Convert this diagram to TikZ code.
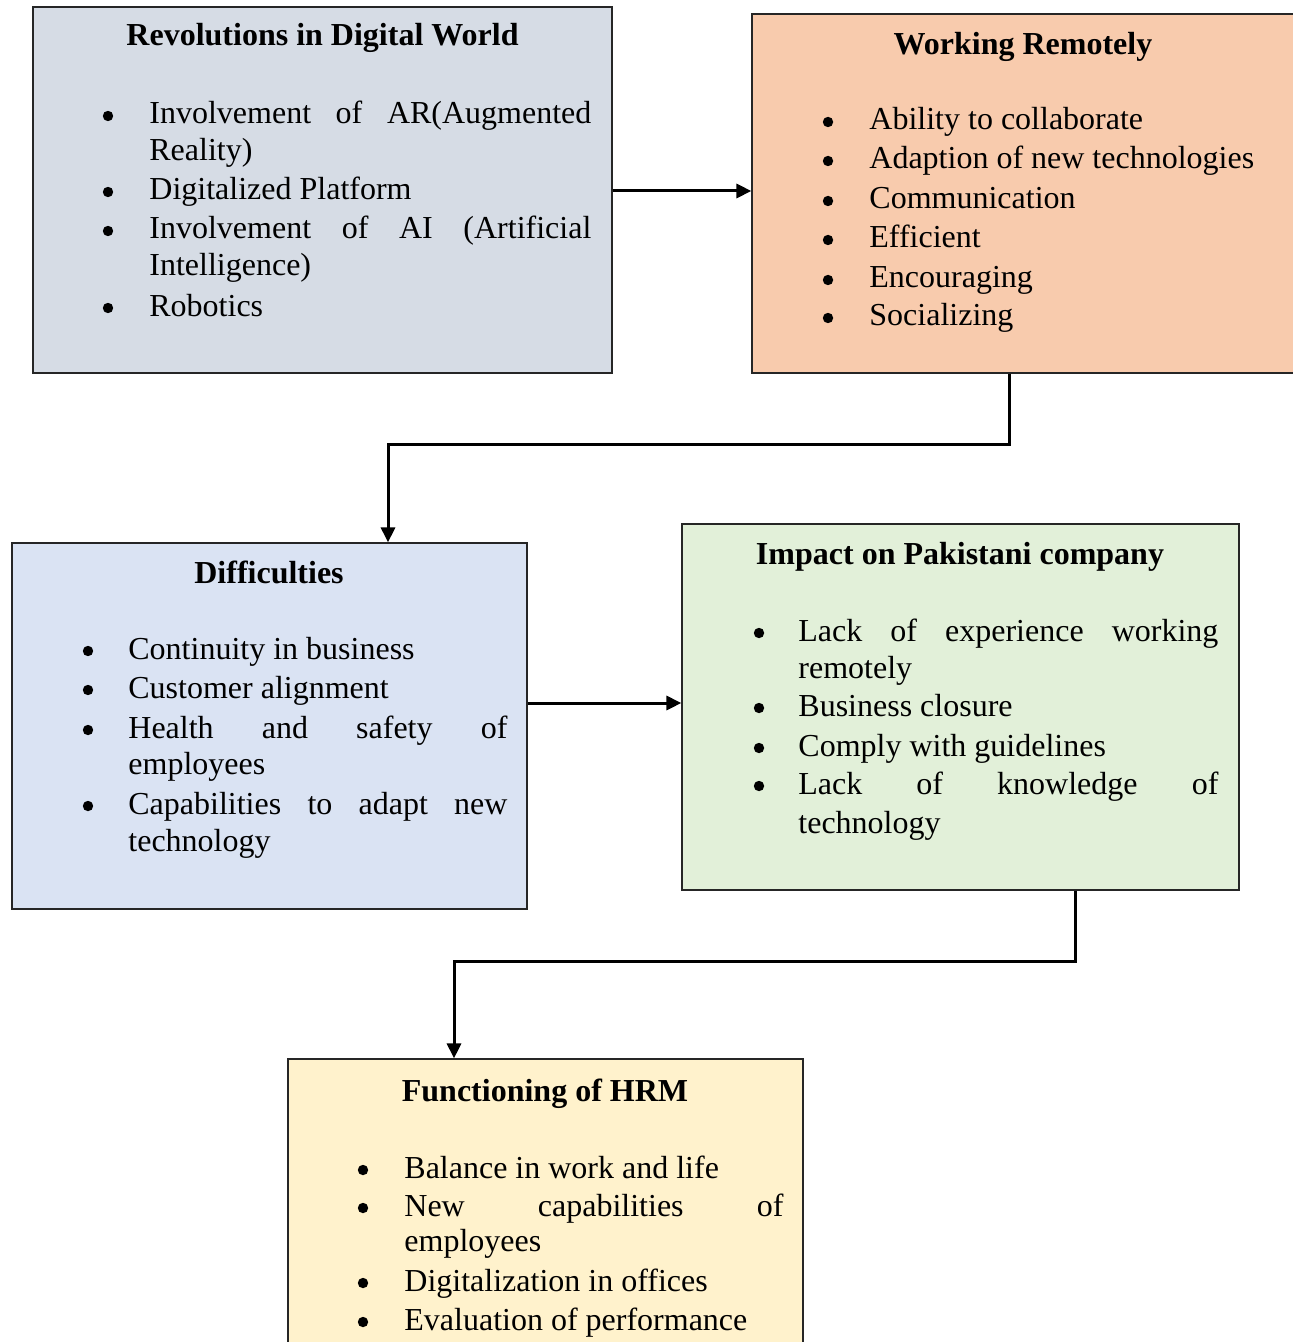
\documentclass[tikz,border=0pt]{standalone}
\usepackage{fontspec}
\setmainfont{Liberation Serif}
\usetikzlibrary{arrows.meta}
\definecolor{cA}{HTML}{D6DCE5}
\definecolor{cB}{HTML}{F8CBAD}
\definecolor{cC}{HTML}{DAE3F3}
\definecolor{cD}{HTML}{E2F0D9}
\definecolor{cE}{HTML}{FFF2CC}
\tikzset{
 box/.style={draw=black!85, line width=0.6pt, inner sep=0pt, rectangle},
 ttl/.style={anchor=base, inner sep=0pt, font=\fontsize{16}{19}\selectfont\bfseries},
 bul/.style={circle, fill=black, inner sep=0pt, minimum size=5.2pt, yshift=4pt},
 ln/.style={anchor=base west, inner sep=0pt},
 conn/.style={line width=1.5pt, -{Triangle[length=7.5pt,width=7pt]}},
}
\begin{document}
\begin{tikzpicture}[x=0.5pt,y=-0.5pt,font=\fontsize{16}{19}\selectfont]
\useasboundingbox (0,0) rectangle (1292,1342);
% boxes
\node[box,fill=cA,minimum width=289.5pt,minimum height=183pt] (b1) at (322.5,190) {};
\node[box,fill=cB,minimum width=271.5pt,minimum height=179.5pt] (b2) at (1023.5,193.5) {};
\node[box,fill=cC,minimum width=257.5pt,minimum height=183pt] (b3) at (269.5,726) {};
\node[box,fill=cD,minimum width=278.5pt,minimum height=183pt] (b4) at (960.5,707) {};
\node[box,fill=cE,minimum width=257.5pt,minimum height=143.5pt] (b5) at (545.5,1202.5) {};

% box 1
\node[ttl] (t1) at (322.5,46) {Revolutions in Digital World};
\node[bul] (p11) at (108,124) {};
\node[ln] (l11) at (149,124) {\makebox[221pt][s]{Involvement of AR(Augmented}};
\node[ln] (l12) at (149,161) {Reality)};
\node[bul] (p12) at (108,200) {};
\node[ln] (l13) at (149,200) {Digitalized Platform};
\node[bul] (p13) at (108,239) {};
\node[ln] (l14) at (149,239) {\makebox[221pt][s]{Involvement of AI (Artificial}};
\node[ln] (l15) at (149,276) {Intelligence)};
\node[bul] (p14) at (108,316) {};
\node[ln] (l16) at (149,316) {Robotics};

% box 2
\node[ttl] (t2) at (1023,55) {Working Remotely};
\node[bul] (p21) at (828,130) {};
\node[ln] (l21) at (869,130) {Ability to collaborate};
\node[bul] (p22) at (828,169) {};
\node[ln] (l22) at (869,169) {Adaption of new technologies};
\node[bul] (p23) at (828,209) {};
\node[ln] (l23) at (869,209) {Communication};
\node[bul] (p24) at (828,248) {};
\node[ln] (l24) at (869,248) {Efficient};
\node[bul] (p25) at (828,288) {};
\node[ln] (l25) at (869,288) {Encouraging};
\node[bul] (p26) at (828,326) {};
\node[ln] (l26) at (869,326) {Socializing};

% box 3
\node[ttl] (t3) at (269,583) {Difficulties};
\node[bul] (p31) at (88,659) {};
\node[ln] (l31) at (128,659) {Continuity in business};
\node[bul] (p32) at (88,698) {};
\node[ln] (l32) at (128,698) {Customer alignment};
\node[bul] (p33) at (88,738) {};
\node[ln] (l33) at (128,738) {\makebox[189.5pt][s]{Health and safety of}};
\node[ln] (l34) at (128,774) {employees};
\node[bul] (p34) at (88,814) {};
\node[ln] (l35) at (128,814) {\makebox[189.5pt][s]{Capabilities to adapt new}};
\node[ln] (l36) at (128,851) {technology};

% box 4
\node[ttl] (t4) at (960,564) {Impact on Pakistani company};
\node[bul] (p41) at (759,641) {};
\node[ln] (l41) at (798,641) {\makebox[210pt][s]{Lack of experience working}};
\node[ln] (l42) at (798,678) {remotely};
\node[bul] (p42) at (759,716) {};
\node[ln] (l43) at (798,716) {Business closure};
\node[bul] (p43) at (759,756) {};
\node[ln] (l44) at (798,756) {Comply with guidelines};
\node[bul] (p44) at (759,794) {};
\node[ln] (l45) at (798,794) {\makebox[210pt][s]{Lack of knowledge of}};
\node[ln] (l46) at (798,833) {technology};

% box 5
\node[ttl] (t5) at (545,1101) {Functioning of HRM};
\node[bul] (p51) at (363,1178) {};
\node[ln] (l51) at (404,1178) {Balance in work and life};
\node[bul] (p52) at (363,1216) {};
\node[ln] (l52) at (404,1216) {\makebox[189.5pt][s]{New capabilities of}};
\node[ln] (l53) at (404,1251) {employees};
\node[bul] (p53) at (363,1291) {};
\node[ln] (l54) at (404,1291) {Digitalization in offices};
\node[bul] (p54) at (363,1330) {};
\node[ln] (l55) at (404,1330) {Evaluation of performance};

% connectors
\coordinate (k0) at (0,191);
\coordinate (k1) at (1009,444);
\coordinate (k2) at (388,444);
\coordinate (k3) at (0,703);
\coordinate (k4) at (1075,961);
\coordinate (k5) at (454,961);
\draw[conn] (b1.east |- k0) -- (b2.west |- k0);
\draw[conn] (b2.south -| k1) -- (k1) -- (k2) -- (k2 |- b3.north);
\draw[conn] (b3.east |- k3) -- (b4.west |- k3);
\draw[conn] (b4.south -| k4) -- (k4) -- (k5) -- (k5 |- b5.north);
\end{tikzpicture}
\end{document}
